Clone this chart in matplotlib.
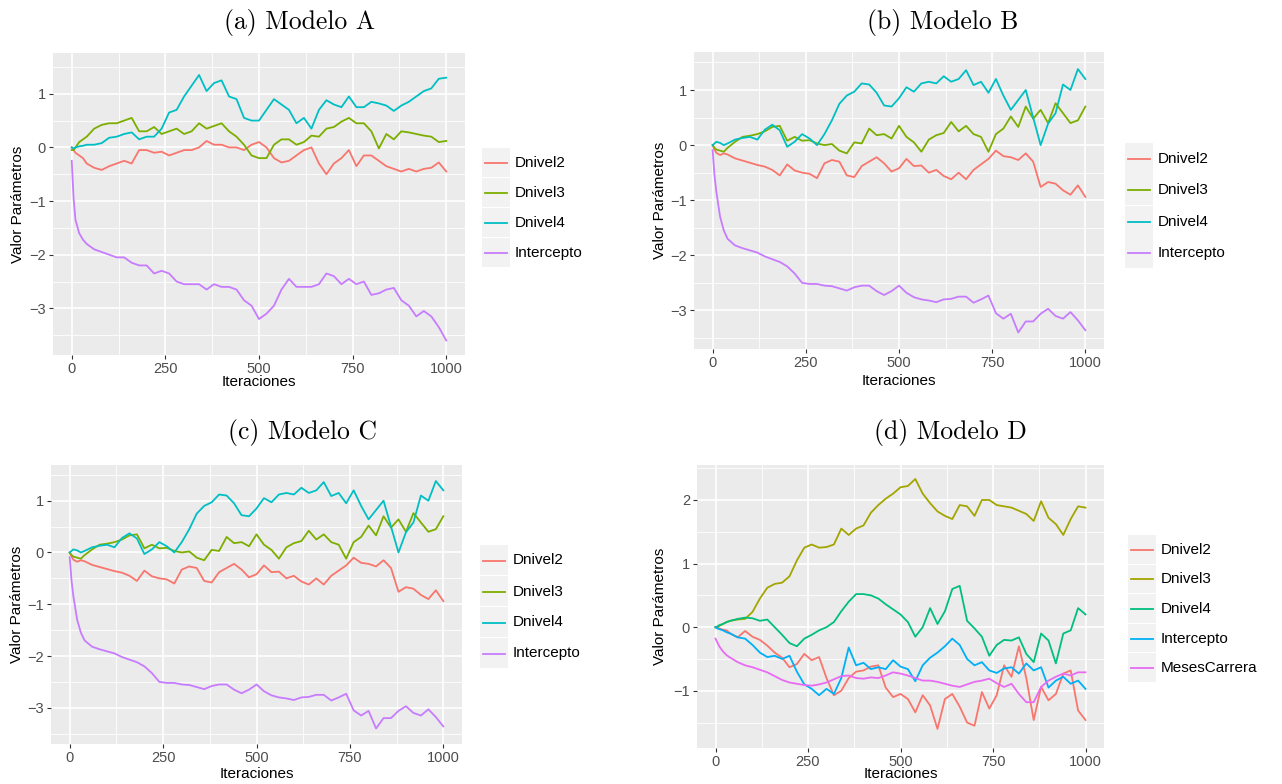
import numpy as np
import matplotlib
matplotlib.use("Agg")
import matplotlib.pyplot as plt
from matplotlib.patches import Rectangle
from matplotlib.lines import Line2D

# iteration grid (denser at the start, where the intercept drops fast)
iters = [0, 5, 10, 20, 30, 40] + list(range(60, 1001, 20))

# --- Modelo A ---
a_dnivel2 = [0, -0.05, -0.1, -0.15, -0.2, -0.3,
             -0.38, -0.42, -0.35, -0.3, -0.25, -0.3, -0.05, -0.05,
             -0.1, -0.08, -0.15, -0.1, -0.05, -0.05, 0.0, 0.12, 0.05, 0.05,
             0.0, 0.0, -0.05, 0.05, 0.1, 0.0, -0.2, -0.28, -0.25, -0.15,
             -0.05, 0.0, -0.3, -0.5, -0.3, -0.2, -0.05, -0.35, -0.15, -0.15,
             -0.25, -0.35, -0.4, -0.45, -0.4, -0.45, -0.4, -0.38, -0.28, -0.45]
a_dnivel3 = [-0.05, -0.05, 0.0, 0.1, 0.15, 0.2,
             0.35, 0.42, 0.45, 0.45, 0.5, 0.55, 0.3, 0.3,
             0.38, 0.25, 0.3, 0.35, 0.25, 0.3, 0.45, 0.35, 0.4, 0.45,
             0.3, 0.2, 0.05, -0.15, -0.2, -0.2, 0.05, 0.15, 0.15, 0.05,
             0.1, 0.22, 0.2, 0.35, 0.38, 0.48, 0.55, 0.45, 0.45, 0.3,
             -0.02, 0.25, 0.15, 0.3, 0.28, 0.25, 0.22, 0.2, 0.1, 0.12]
a_dnivel4 = [0, -0.02, 0.0, 0.02, 0.03, 0.05,
             0.05, 0.08, 0.18, 0.2, 0.25, 0.28, 0.15, 0.2,
             0.2, 0.35, 0.65, 0.7, 0.95, 1.15, 1.35, 1.05, 1.2, 1.25,
             0.95, 0.9, 0.55, 0.5, 0.5, 0.7, 0.9, 0.8, 0.7, 0.45,
             0.55, 0.35, 0.7, 0.88, 0.8, 0.75, 0.95, 0.75, 0.75, 0.85,
             0.82, 0.78, 0.68, 0.78, 0.85, 0.95, 1.05, 1.1, 1.28, 1.3]
a_intercepto = [-0.25, -0.95, -1.35, -1.6, -1.72, -1.8,
                -1.9, -1.95, -2.0, -2.05, -2.05, -2.15, -2.2, -2.2,
                -2.35, -2.3, -2.35, -2.5, -2.55, -2.55, -2.55, -2.65, -2.55, -2.6,
                -2.6, -2.65, -2.85, -2.95, -3.2, -3.1, -2.95, -2.65, -2.45, -2.6,
                -2.6, -2.6, -2.55, -2.35, -2.4, -2.55, -2.45, -2.55, -2.5, -2.75,
                -2.72, -2.65, -2.62, -2.85, -2.95, -3.15, -3.05, -3.15, -3.35, -3.6]

# --- Modelo B (Modelo C gives the same chains) ---
b_dnivel2 = [0, -0.08, -0.14, -0.18, -0.15, -0.17,
             -0.24, -0.28, -0.32, -0.36, -0.39, -0.45, -0.55, -0.35,
             -0.46, -0.5, -0.52, -0.6, -0.33, -0.27, -0.3, -0.55, -0.58, -0.38,
             -0.3, -0.22, -0.33, -0.48, -0.42, -0.25, -0.38, -0.37, -0.5, -0.45,
             -0.56, -0.62, -0.5, -0.62, -0.45, -0.35, -0.25, -0.1, -0.2, -0.22,
             -0.27, -0.15, -0.3, -0.76, -0.67, -0.7, -0.82, -0.9, -0.73, -0.94]
b_dnivel3 = [0, -0.05, -0.08, -0.1, -0.12, -0.05,
             0.06, 0.15, 0.17, 0.2, 0.25, 0.33, 0.35, 0.08,
             0.15, 0.08, 0.09, 0.03, 0.0, 0.02, -0.1, -0.15, 0.05, 0.03,
             0.3, 0.18, 0.2, 0.12, 0.35, 0.15, 0.05, -0.12, 0.1, 0.18,
             0.22, 0.42, 0.25, 0.35, 0.2, 0.15, -0.12, 0.2, 0.3, 0.52,
             0.33, 0.7, 0.48, 0.64, 0.4, 0.76, 0.58, 0.4, 0.45, 0.7]
b_dnivel4 = [0, 0.03, 0.06, 0.04, 0.0, 0.03,
             0.1, 0.13, 0.15, 0.1, 0.28, 0.37, 0.27, -0.03,
             0.06, 0.2, 0.12, 0.0, 0.2, 0.45, 0.75, 0.9, 0.97, 1.12,
             1.1, 0.95, 0.72, 0.7, 0.85, 1.05, 0.97, 1.12, 1.15, 1.12,
             1.25, 1.15, 1.2, 1.36, 1.09, 1.15, 0.95, 1.2, 0.9, 0.64,
             0.82, 1.0, 0.5, 0.0, 0.39, 0.58, 1.1, 1.0, 1.38, 1.2]
b_intercepto = [-0.09, -0.55, -0.85, -1.3, -1.55, -1.7,
                -1.82, -1.87, -1.91, -1.95, -2.02, -2.07, -2.12, -2.2,
                -2.33, -2.5, -2.52, -2.52, -2.55, -2.56, -2.6, -2.64, -2.58, -2.55,
                -2.55, -2.65, -2.72, -2.65, -2.55, -2.68, -2.76, -2.8, -2.82, -2.85,
                -2.8, -2.79, -2.75, -2.75, -2.86, -2.8, -2.73, -3.05, -3.15, -3.06,
                -3.4, -3.2, -3.2, -3.06, -2.97, -3.1, -3.15, -3.03, -3.18, -3.36]

# --- Modelo D ---
d_dnivel2 = [0, -0.01, -0.02, -0.04, -0.05, -0.1,
             -0.16, -0.06, -0.15, -0.2, -0.29, -0.4, -0.48, -0.63,
             -0.58, -0.42, -0.52, -0.47, -0.8, -1.07, -1.0, -0.8, -0.7, -0.68,
             -0.62, -0.6, -0.95, -1.1, -1.05, -1.13, -1.34, -1.07, -1.23, -1.6,
             -1.13, -1.05, -1.25, -1.5, -1.55, -1.02, -1.28, -1.07, -0.6, -0.78,
             -0.3, -0.8, -1.46, -0.94, -1.15, -1.05, -0.73, -0.68, -1.31, -1.46]
d_dnivel3 = [0, 0.0, 0.02, 0.05, 0.08, 0.1,
             0.12, 0.13, 0.24, 0.45, 0.62, 0.68, 0.7, 0.8,
             1.05, 1.25, 1.3, 1.25, 1.26, 1.3, 1.55, 1.45, 1.55, 1.6,
             1.8, 1.92, 2.02, 2.1, 2.2, 2.22, 2.33, 2.1, 1.95, 1.82,
             1.75, 1.7, 1.92, 1.9, 1.75, 2.0, 2.0, 1.92, 1.9, 1.88,
             1.83, 1.78, 1.67, 1.98, 1.72, 1.62, 1.45, 1.7, 1.9, 1.88]
d_dnivel4 = [0, 0.01, 0.03, 0.05, 0.08, 0.1,
             0.13, 0.15, 0.14, 0.1, 0.12, 0.0, -0.12, -0.25,
             -0.3, -0.18, -0.12, -0.05, 0.0, 0.08, 0.25, 0.4, 0.52, 0.52,
             0.5, 0.45, 0.36, 0.28, 0.2, 0.08, -0.15, 0.0, 0.3, 0.05,
             0.25, 0.6, 0.65, 0.1, -0.02, -0.15, -0.45, -0.28, -0.2, -0.21,
             -0.16, -0.42, -0.55, -0.1, -0.21, -0.57, -0.1, -0.05, 0.3, 0.2]
d_intercepto = [0, -0.02, -0.03, -0.05, -0.08, -0.1,
                -0.16, -0.18, -0.28, -0.4, -0.47, -0.45, -0.5, -0.45,
                -0.7, -0.9, -0.97, -1.07, -0.97, -1.05, -0.8, -0.32, -0.6, -0.56,
                -0.66, -0.63, -0.66, -0.52, -0.62, -0.66, -0.85, -0.6, -0.48, -0.4,
                -0.3, -0.18, -0.28, -0.5, -0.6, -0.55, -0.68, -0.72, -0.65, -0.63,
                -0.73, -0.57, -0.68, -0.63, -0.95, -0.84, -0.78, -0.89, -0.84, -0.97]
d_meses = [-0.18, -0.24, -0.3, -0.38, -0.44, -0.48,
           -0.55, -0.6, -0.63, -0.67, -0.71, -0.77, -0.83, -0.87,
           -0.89, -0.91, -0.92, -0.9, -0.87, -0.82, -0.77, -0.76, -0.8, -0.81,
           -0.79, -0.8, -0.76, -0.71, -0.73, -0.76, -0.8, -0.84, -0.84, -0.86,
           -0.89, -0.92, -0.94, -0.9, -0.86, -0.84, -0.81, -0.88, -0.94, -0.89,
           -1.05, -1.18, -1.18, -0.94, -0.84, -0.78, -0.73, -0.76, -0.71, -0.71]

labels4 = ["Dnivel2", "Dnivel3", "Dnivel4", "Intercepto"]
labels5 = ["Dnivel2", "Dnivel3", "Dnivel4", "Intercepto", "MesesCarrera"]
pal4 = ["#F8766D", "#7CAE00", "#00BFC4", "#C77CFF"]
pal5 = ["#F8766D", "#A3A500", "#00BF7D", "#00B0F6", "#E76BF3"]

W, H = 1282, 784
fig = plt.figure(figsize=(W / 100, H / 100), dpi=100)
sans = "Liberation Sans"


def add_panel(box, ylim, yticks, series, colors):
    l, t, r, b = box
    ax = fig.add_axes([l / W, 1 - b / H, (r - l) / W, (b - t) / H])
    ax.set_facecolor("#EBEBEB")
    for s, c in zip(series, colors):
        ax.plot(iters, s, color=c, lw=1.3, zorder=3)
    ax.set_xlim(-50, 1050)
    ax.set_ylim(*ylim)
    ax.set_xticks([0, 250, 500, 750, 1000])
    ax.set_xticks([125, 375, 625, 875], minor=True)
    ax.set_yticks(yticks)
    ax.set_yticks([v + 0.5 for v in yticks] + [yticks[0] - 0.5], minor=True)
    ax.set_yticklabels([f"{v:d}".replace("-", "\u2212") for v in yticks])
    ax.grid(which="major", color="white", lw=1.2)
    ax.grid(which="minor", color="white", lw=0.6)
    ax.set_axisbelow(True)
    for sp in ax.spines.values():
        sp.set_visible(False)
    ax.tick_params(which="major", length=3, width=0.8, color="#333333",
                   labelcolor="#4D4D4D", labelsize=10.5, pad=2)
    ax.tick_params(which="minor", length=0)
    for lab in ax.get_xticklabels() + ax.get_yticklabels():
        lab.set_family(sans)
    return ax


def add_titles(box, title, ttl_y, xlab_y, ylab_x):
    l, t, r, b = box
    fig.text((l + r) / 2 / W, 1 - xlab_y / H, "Iteraciones", family=sans,
             fontsize=11, ha="center", va="center")
    fig.text(ylab_x / W, 1 - (t + b) / 2 / H, "Valor Parámetros", family=sans,
             fontsize=11, ha="center", va="center", rotation=90)
    fig.text(title[1] / W, 1 - ttl_y / H, title[0], family="cmr10",
             fontsize=18.5, ha="center", va="center")


def add_legend(x0, y0, row_h, labels, colors):
    for i, (lab, c) in enumerate(zip(labels, colors)):
        top = y0 + i * row_h
        fig.add_artist(Rectangle((x0 / W, 1 - (top + row_h - 1) / H),
                                 28 / W, (row_h - 1) / H,
                                 transform=fig.transFigure,
                                 facecolor="#F2F2F2", edgecolor="none"))
        yc = 1 - (top + row_h / 2) / H
        fig.add_artist(Line2D([(x0 + 3) / W, (x0 + 25) / W], [yc, yc],
                              transform=fig.transFigure, color=c, lw=1.3))
        fig.text((x0 + 33) / W, yc, lab, family=sans, fontsize=11,
                 ha="left", va="center")


series_a = [a_dnivel2, a_dnivel3, a_dnivel4, a_intercepto]
series_b = [b_dnivel2, b_dnivel3, b_dnivel4, b_intercepto]
series_d = [d_dnivel2, d_dnivel3, d_dnivel4, d_intercepto, d_meses]

box_a = (53, 53, 465, 355)
box_b = (694, 52, 1104, 349)
box_c = (51, 465, 462, 744)
box_d = (697, 465, 1104, 748)

add_panel(box_a, (-3.87, 1.76), [-3, -2, -1, 0, 1], series_a, pal4)
add_panel(box_b, (-3.7, 1.69), [-3, -2, -1, 0, 1], series_b, pal4)
add_panel(box_c, (-3.7, 1.69), [-3, -2, -1, 0, 1], series_b, pal4)
add_panel(box_d, (-1.9, 2.55), [-1, 0, 1, 2], series_d, pal5)

add_titles(box_a, ("(a) Modelo A", 300), 22, 382, 18)
add_titles(box_b, ("(b) Modelo B", 943), 22, 381, 660)
add_titles(box_c, ("(c) Modelo C", 302), 433, 774, 17)
add_titles(box_d, ("(d) Modelo D", 950), 433, 774, 660)

add_legend(482, 148, 30, labels4, pal4)
add_legend(1125, 143, 31.5, labels4, pal4)
add_legend(480, 545, 31, labels4, pal4)
add_legend(1128, 535, 29.6, labels5, pal5)

fig.savefig("out.png", dpi=100)
